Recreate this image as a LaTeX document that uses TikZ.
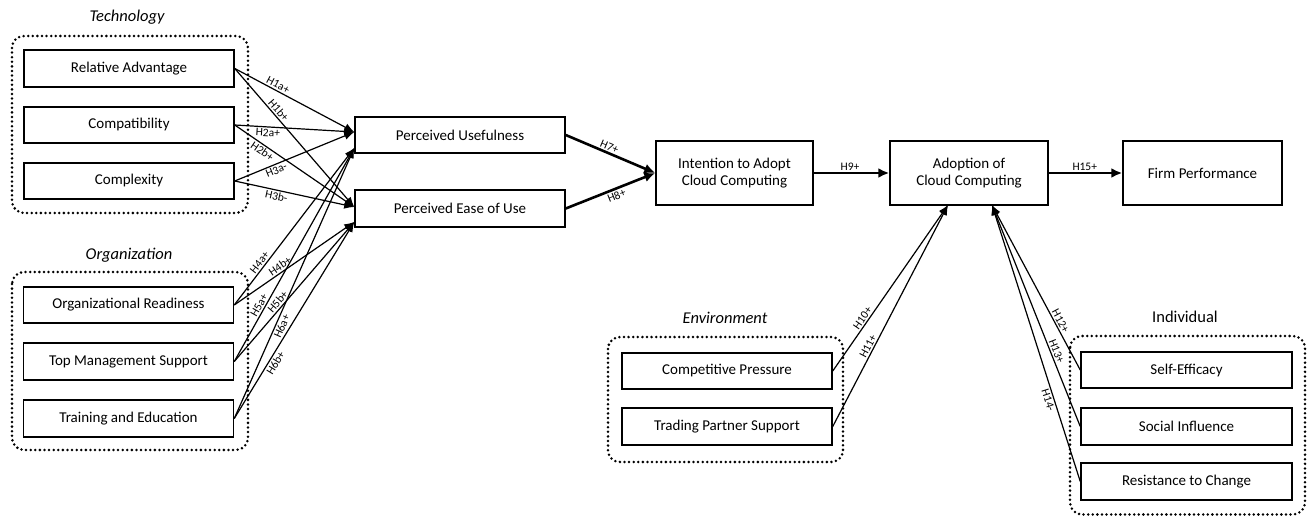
\documentclass[tikz,border=0pt]{standalone}
\usepackage{fontspec}
\setmainfont{Carlito}
\usetikzlibrary{arrows.meta}
\begin{document}
\begin{tikzpicture}[x=1pt,y=-1pt,
  box/.style={draw, line width=1.5pt, minimum width=210pt, minimum height=36pt, inner sep=0pt, align=center, font=\fontsize{15}{17}\selectfont},
  group/.style={draw, line width=2.8pt, dash pattern=on 0pt off 4.6pt, line cap=round, rounded corners=12pt},
  head/.style={font=\fontsize{16.5}{19}\selectfont\itshape},
  arr/.style={line width=1.2pt, -{Latex[length=10pt,width=8pt]}},
  bigarr/.style={line width=2.6pt, -{Latex[length=11pt,width=10pt]}},
  hyp/.style={font=\fontsize{11.5}{13}\selectfont, inner sep=1.5pt, sloped}
]
\useasboundingbox (0,0) rectangle (1309,516);

% groups
\draw[group] (12,36) rectangle (248,213);
\draw[group] (12,272) rectangle (248,450);
\draw[group] (608,337) rectangle (843,462);
\draw[group] (1070,336) rectangle (1305,514.5);

\node[head] (tech) at (127,17) {Technology};
\node[head] (org) at (129,255) {Organization};
\node[head] (env) at (725,318) {Environment};
\node[font=\fontsize{16.5}{19}\selectfont] (ind) at (1185,317) {Individual};

% boxes
\node[box, minimum height=37pt] (ra) at (129,68.5) {Relative Advantage};
\node[box] (ca) at (129,125) {Compatibility};
\node[box] (cx) at (129,181) {Complexity};
\node[box] (or) at (128.5,305) {Organizational Readiness};
\node[box, minimum height=37pt] (tm) at (128.5,361.5) {Top Management Support};
\node[box, minimum height=37pt] (te) at (128.5,418.5) {Training and Education};

\node[box] (pu) at (460,135) {Perceived Usefulness};
\node[box, minimum height=37pt] (peu) at (460,208.5) {Perceived Ease of Use};

\node[box, minimum width=157pt, minimum height=64pt] (it) at (734.5,173) {Intention to Adopt\\Cloud Computing};
\node[box, minimum width=158pt, minimum height=64pt] (ad) at (969,173) {Adoption of\\Cloud Computing};
\node[box, minimum width=159pt, minimum height=64pt] (fp) at (1202.5,173) {Firm Performance};

\node[box] (cp) at (727,371) {Competitive Pressure};
\node[box, minimum height=37pt] (tp) at (727,426.5) {Trading Partner Support};

\node[box, minimum width=211pt] (se) at (1186.5,370) {Self-Efficacy};
\node[box, minimum width=211pt, minimum height=37pt] (si) at (1186.5,426.5) {Social Influence};
\node[box, minimum width=211pt, minimum height=37pt] (rc) at (1186.5,481.5) {Resistance to Change};

% arrow target points
\coordinate (pu1) at (pu.west |- 0,132);
\coordinate (pu2) at (pu.west |- 0,148);
\coordinate (peu1) at (peu.west |- 0,207);
\coordinate (peu2) at (peu.west |- 0,222);
\coordinate (adE) at (948,205);
\coordinate (adI) at (992,205);

% technology
\draw[arr] (ra.east) -- node[hyp, above, pos=0.34] {H1a+} (pu1);
\draw[arr] (ra.east) -- node[hyp, above, pos=0.33] {H1b+} (peu1);
\draw[arr] (ca.east) -- node[hyp, below, pos=0.28] {H2a+} (pu1);
\draw[arr] (ca.east) -- node[hyp, below, pos=0.26] {H2b+} (peu1);
\draw[arr] (cx.east) -- node[hyp, below, pos=0.33] {H3a-} (pu1);
\draw[arr] (cx.east) -- node[hyp, below, pos=0.36] {H3b-} (peu1);

% organization
\draw[arr] (or.east) -- node[hyp, above, pos=0.25] {H4a+} (pu2);
\draw[arr] (or.east) -- node[hyp, above, pos=0.41] {H4b+} (peu2);
\draw[arr] (tm.east) -- node[hyp, above, pos=0.25] {H5a+} (pu2);
\draw[arr] (tm.east) -- node[hyp, above, pos=0.40] {H5b+} (peu2);
\draw[arr] (te.east) -- node[hyp, below, pos=0.35] {H6a+} (pu2);
\draw[arr] (te.east) -- node[hyp, below, pos=0.30] {H6b+} (peu2);

% main chain
\draw[bigarr] (pu.east) -- node[hyp, above, pos=0.46] {H7+} (it.west);
\draw[bigarr] (peu.east) -- node[hyp, below, pos=0.54] {H8+} (it.west);
\draw[bigarr] (it.east) -- node[hyp, above, pos=0.48] {H9+} (ad.west);
\draw[bigarr] (ad.east) -- node[hyp, above, pos=0.49] {H15+} (fp.west);

% environment
\draw[arr] (cp.east) -- node[hyp, above, pos=0.30] {H10+} (adE);
\draw[arr] (tp.east) -- node[hyp, above, pos=0.35] {H11+} (adE);

% individual
\draw[arr] (se.west) -- node[hyp, above, pos=0.28] {H12+} (adI);
\draw[arr] (si.west) -- node[hyp, above, pos=0.33] {H13+} (adI);
\draw[arr] (rc.west) -- node[hyp, below, pos=0.30] {H14-} (adI);
\end{tikzpicture}
\end{document}
